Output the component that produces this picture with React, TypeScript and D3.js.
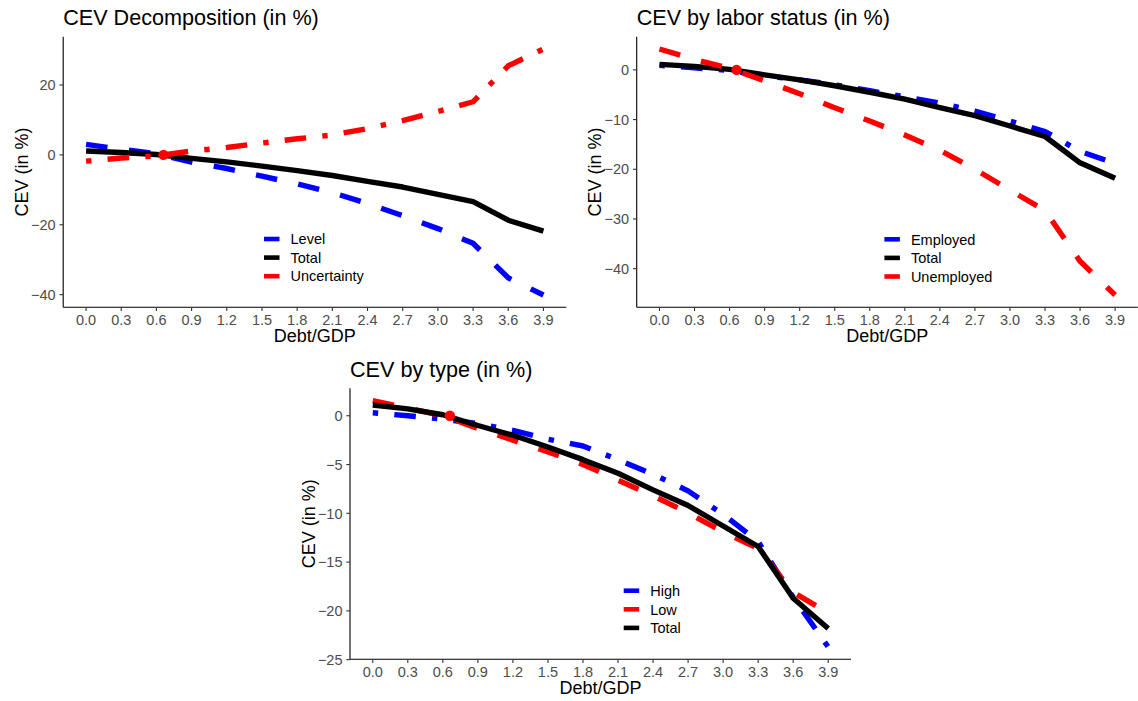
import React from "react";
import * as d3 from "d3";

// ---------- data ----------
const debtGrid = [0, 0.3, 0.6, 0.9, 1.2, 1.5, 1.8, 2.1, 2.4, 2.7, 3.0, 3.3, 3.6, 3.9];
const xTickValues = [0, 0.3, 0.6, 0.9, 1.2, 1.5, 1.8, 2.1, 2.4, 2.7, 3.0, 3.3, 3.6, 3.9];
const benchmark = { x: 0.66, y: 0 };

const totalCEV = [1.1, 0.7, 0.1, -1.0, -2.0, -3.2, -4.5, -5.9, -7.6, -9.2, -11.3, -13.4, -18.7, -21.8];
const levelCEV = [3.0, 1.6, 0.3, -2.1, -3.9, -6.1, -8.3, -10.8, -13.9, -17.4, -21.1, -25.3, -35.2, -40.1];
const uncertaintyCEV = [-1.8, -0.9, -0.3, 1.1, 2.1, 3.4, 4.6, 5.7, 7.5, 9.8, 12.4, 15.2, 25.5, 30.3];

const employedCEV = [0.9, 0.4, -0.1, -1.2, -2.0, -3.0, -4.2, -5.4, -6.7, -8.3, -10.3, -12.4, -16.4, -18.8];
const unemployedCEV = [4.2, 2.1, 0.3, -2.2, -4.8, -7.6, -10.3, -13.1, -16.2, -20.0, -24.2, -28.3, -38.5, -45.3];

const highCEV = [0.3, 0.0, -0.35, -0.8, -1.5, -2.4, -3.1, -4.5, -6.0, -7.7, -10.1, -12.9, -18.6, -23.7];
const lowCEV = [1.55, 0.8, 0.0, -1.3, -2.5, -3.7, -5.0, -6.6, -8.2, -9.95, -11.9, -13.6, -18.1, -20.2];

const yTicksDecomp = [-40, -20, 0, 20];
const yTicksLabor = [-40, -30, -20, -10, 0];
const yTicksType = [-25, -20, -15, -10, -5, 0];

// ---------- styling ----------
const FONT = "'Liberation Sans', Arial, Helvetica, sans-serif";
const LW = 5.4;
const DASHES: Record<string, string | undefined> = {
  solid: undefined,
  dashed: `${LW * 4} ${LW * 4}`,
  dotdash: `${LW * 1} ${LW * 3} ${LW * 4} ${LW * 3}`,
};

type Series = { name: string; values: number[]; color: string; dash: "solid" | "dashed" | "dotdash" };

type PanelProps = {
  title: string;
  left: number;
  right: number;
  top: number;
  bottom: number;
  series: Series[];
  yTicks: number[];
  legendX: number;
  legendY: number;
};

const fmtY = (v: number) => (v < 0 ? "\u2212" + Math.abs(v) : String(v));

function Panel({ title, left, right, top, bottom, series, yTicks, legendX, legendY }: PanelProps) {
  const xExt = d3.extent(debtGrid) as [number, number];
  const xPad = (xExt[1] - xExt[0]) * 0.05;
  const x = d3.scaleLinear().domain([xExt[0] - xPad, xExt[1] + xPad]).range([left, right]);
  const allY = series.flatMap((s) => s.values);
  const yExt = d3.extent(allY) as [number, number];
  const yPad = (yExt[1] - yExt[0]) * 0.05;
  const y = d3.scaleLinear().domain([yExt[0] - yPad, yExt[1] + yPad]).range([bottom, top]);

  const line = d3
    .line<number>()
    .x((_, i) => x(debtGrid[i]))
    .y((d) => y(d));

  const rowGap = 18.6;

  return (
    <g>
      <text x={left} y={top - 11.7} fontSize={21.6} fill="#000" fontFamily={FONT}>
        {title}
      </text>
      {series.map((s) => (
        <path
          key={s.name}
          d={line(s.values) || ""}
          fill="none"
          stroke={s.color}
          strokeWidth={LW}
          strokeDasharray={DASHES[s.dash]}
          strokeLinejoin="round"
          strokeLinecap="butt"
        />
      ))}
      <circle cx={x(benchmark.x)} cy={y(benchmark.y)} r={5.2} fill="#FF0000" />
      {/* axes */}
      <line x1={left} x2={left} y1={top} y2={bottom} stroke="#000" strokeWidth={1.1} />
      <line x1={left} x2={right} y1={bottom} y2={bottom} stroke="#000" strokeWidth={1.1} />
      {xTickValues.map((v) => (
        <g key={"x" + v}>
          <line x1={x(v)} x2={x(v)} y1={bottom} y2={bottom + 3.7} stroke="#333" strokeWidth={1.1} />
          <text
            x={x(v)}
            y={bottom + 17.7}
            textAnchor="middle"
            fontSize={14.5}
            fill="#4D4D4D"
            fontFamily={FONT}
          >
            {v.toFixed(1)}
          </text>
        </g>
      ))}
      {yTicks.map((v) => (
        <g key={"y" + v}>
          <line x1={left - 3.7} x2={left} y1={y(v)} y2={y(v)} stroke="#333" strokeWidth={1.1} />
          <text
            x={left - 7.5}
            y={y(v)}
            dy="0.36em"
            textAnchor="end"
            fontSize={14.5}
            fill="#4D4D4D"
            fontFamily={FONT}
          >
            {fmtY(v)}
          </text>
        </g>
      ))}
      <text
        x={(left + right) / 2}
        y={bottom + 34.7}
        textAnchor="middle"
        fontSize={18}
        fill="#000"
        fontFamily={FONT}
      >
        Debt/GDP
      </text>
      <text
        transform={`translate(${left - 35.5},${(top + bottom) / 2}) rotate(-90)`}
        textAnchor="middle"
        fontSize={18}
        fill="#000"
        fontFamily={FONT}
      >
        CEV (in %)
      </text>
      {/* legend */}
      {series.map((s, i) => (
        <g key={"lg" + s.name}>
          <line
            x1={legendX}
            x2={legendX + 15.5}
            y1={legendY + i * rowGap}
            y2={legendY + i * rowGap}
            stroke={s.color}
            strokeWidth={4.6}
          />
          <text
            x={legendX + 26.5}
            y={legendY + i * rowGap}
            dy="0.36em"
            fontSize={14.5}
            fill="#000"
            fontFamily={FONT}
          >
            {s.name}
          </text>
        </g>
      ))}
    </g>
  );
}

export default function App() {
  const decomp: Series[] = [
    { name: "Level", values: levelCEV, color: "#0000FF", dash: "dashed" },
    { name: "Total", values: totalCEV, color: "#000000", dash: "solid" },
    { name: "Uncertainty", values: uncertaintyCEV, color: "#FF0000", dash: "dotdash" },
  ];
  const labor: Series[] = [
    { name: "Employed", values: employedCEV, color: "#0000FF", dash: "dotdash" },
    { name: "Total", values: totalCEV, color: "#000000", dash: "solid" },
    { name: "Unemployed", values: unemployedCEV, color: "#FF0000", dash: "dashed" },
  ];
  const types: Series[] = [
    { name: "High", values: highCEV, color: "#0000FF", dash: "dotdash" },
    { name: "Low", values: lowCEV, color: "#FF0000", dash: "dashed" },
    { name: "Total", values: totalCEV, color: "#000000", dash: "solid" },
  ];
  return (
    <svg
      width={1138}
      height={701}
      style={{ position: "absolute", left: 0, top: 0, background: "#fff" }}
    >
      <rect x={0} y={0} width={1138} height={701} fill="#fff" />
      <Panel
        title="CEV Decomposition (in %)"
        left={63.2}
        right={566.3}
        top={36.7}
        bottom={307.3}
        series={decomp}
        yTicks={yTicksDecomp}
        legendX={264}
        legendY={239}
      />
      <Panel
        title="CEV by labor status (in %)"
        left={636.7}
        right={1137.9}
        top={36.7}
        bottom={307.3}
        series={labor}
        yTicks={yTicksLabor}
        legendX={884.4}
        legendY={239.3}
      />
      <Panel
        title="CEV by type (in %)"
        left={350}
        right={851}
        top={388.3}
        bottom={659.3}
        series={types}
        yTicks={yTicksType}
        legendX={623.7}
        legendY={590.7}
      />
    </svg>
  );
}
